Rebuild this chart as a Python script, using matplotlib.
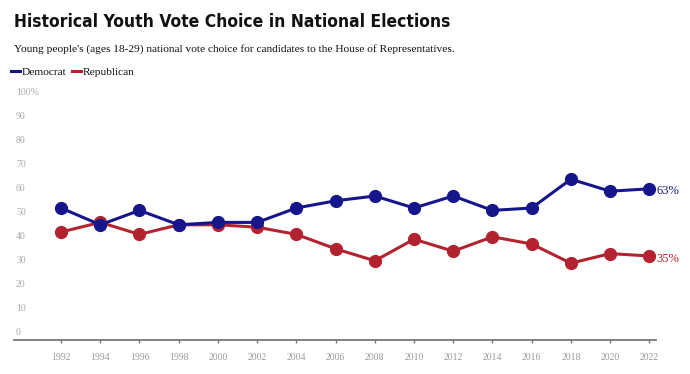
import matplotlib.pyplot as plt
import matplotlib.transforms as mtransforms
from matplotlib.lines import Line2D

# youth vote share for House candidates
years = [1992, 1994, 1996, 1998, 2000, 2002, 2004, 2006, 2008, 2010,
         2012, 2014, 2016, 2018, 2020, 2022]
dem = [55, 48, 54, 48, 49, 49, 55, 58, 60, 55, 60, 54, 55, 67, 62, 63]
rep = [45, 49, 44, 48, 48, 47, 44, 38, 33, 42, 37, 43, 40, 32, 36, 35]
y_ticks = [0, 10, 20, 30, 40, 50, 60, 70, 80, 90, 100]
y_labels = ["0", "10", "20", "30", "40", "50", "60", "70", "80", "90", "100%"]

dem_color = "#16168c"
rep_color = "#b3222f"
grey = "#9a9a9a"
serif = ["Liberation Serif", "DejaVu Serif"]

W, H = 690, 374
fig = plt.figure(figsize=(W / 100, H / 100), dpi=100)
ax = fig.add_axes([14 / W, (H - 340) / H, (656 - 14) / W, 240 / H])

ax.plot(years, dem, color=dem_color, lw=2.2, marker="o", ms=8.5, zorder=4)
ax.plot(years, rep, color=rep_color, lw=2.2, marker="o", ms=8.5, zorder=3)

ax.set_xlim(1989.6, 2022.34)
ax.set_ylim(0, 100)
for s in ["top", "right", "left"]:
    ax.spines[s].set_visible(False)
ax.spines["bottom"].set_color("#777777")
ax.spines["bottom"].set_linewidth(1.3)

ax.set_xticks(years)
ax.set_xticklabels([str(y) for y in years], family=serif, fontsize=7, color=grey)
ax.tick_params(axis="x", length=2.5, width=1, color="#777777", pad=6.5)
ax.set_yticks([])

# y labels sit inside the plot, just above their value
blend = mtransforms.blended_transform_factory(ax.transAxes, ax.transData)
for v, lab in zip(y_ticks, y_labels):
    ax.annotate(lab, xy=(0, v), xycoords=blend, xytext=(1.5, 2.5),
                textcoords="offset points", ha="left", va="bottom",
                family=serif, fontsize=7, color="#aaaaaa")

# end labels
ax.annotate(f"{dem[-1]}%", xy=(years[-1], dem[-1]), xytext=(5, -1.5),
            textcoords="offset points", va="center", ha="left",
            family=serif, fontsize=9, color=dem_color)
ax.annotate(f"{rep[-1]}%", xy=(years[-1], rep[-1]), xytext=(5, -2),
            textcoords="offset points", va="center", ha="left",
            family=serif, fontsize=9, color=rep_color)

# title block
fig.text(14 / W, 1 - 27 / H, "Historical Youth Vote Choice in National Elections",
         family=["Liberation Sans Narrow", "DejaVu Sans"], fontstretch="condensed",
         fontweight="bold", fontsize=12.5, color="#111111", va="baseline", ha="left")
fig.text(14 / W, 1 - 52 / H,
         "Young people's (ages 18-29) national vote choice for candidates to the House of Representatives.",
         family=serif, fontsize=8.2, color="#111111", va="baseline", ha="left")

# legend drawn by hand, each entry placed after the previous text
renderer = fig.canvas.get_renderer()
ly = 1 - 70.5 / H
x = 11
for name, col in [("Democrat", dem_color), ("Republican", rep_color)]:
    fig.add_artist(Line2D([x / W, (x + 9) / W], [ly, ly], color=col, lw=2.2))
    t = fig.text((x + 11) / W, 1 - 75 / H, name, family=serif, fontsize=8.2,
                 color="#111111", va="baseline")
    x = t.get_window_extent(renderer).x1 + 5

fig.savefig("out.png", dpi=100)
